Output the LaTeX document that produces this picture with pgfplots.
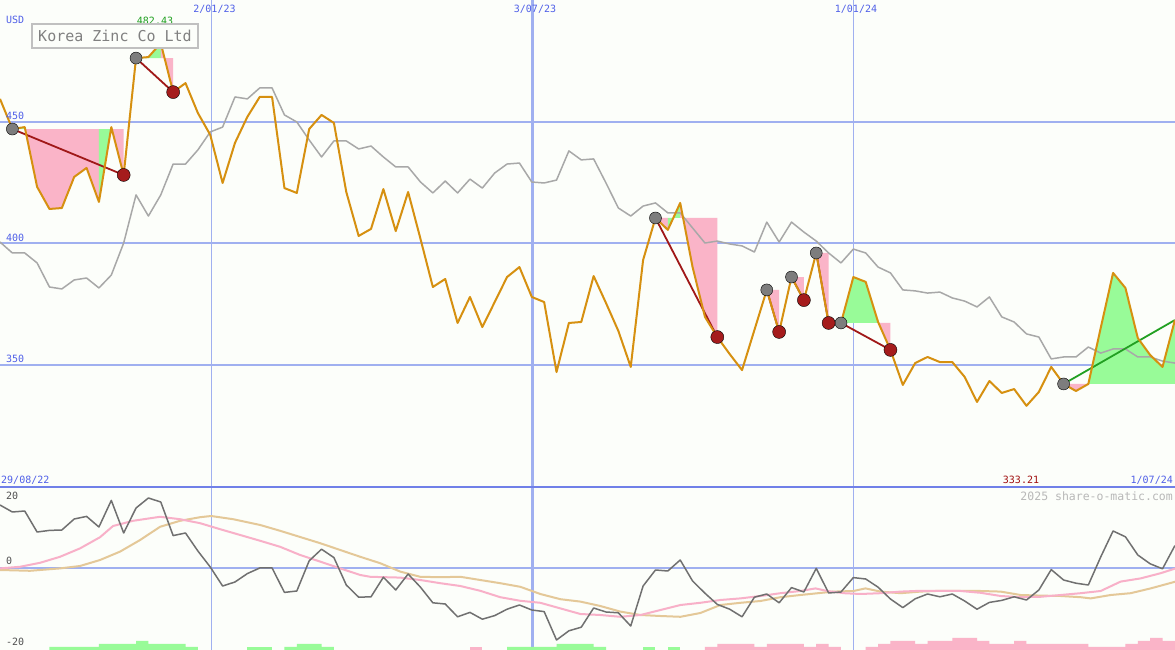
\documentclass[border=0pt]{standalone}
\usepackage{fontspec}
\setmainfont{DejaVu Sans Mono}
\usepackage{pgfplots}
\pgfplotsset{compat=1.18}
\definecolor{bgc}{RGB}{252,254,250}
\definecolor{gridc}{RGB}{160,176,240}
\definecolor{sepc}{RGB}{112,128,232}
\definecolor{lblue}{RGB}{80,96,232}
\definecolor{orangec}{RGB}{214,144,16}
\definecolor{grayp}{RGB}{168,168,168}
\definecolor{pinkf}{RGB}{250,180,200}
\definecolor{greenf}{RGB}{152,251,152}
\definecolor{tradered}{RGB}{160,24,24}
\definecolor{exitred}{RGB}{165,28,28}
\definecolor{entrygray}{RGB}{125,125,125}
\definecolor{tradegreen}{RGB}{34,160,34}
\definecolor{momc}{RGB}{112,112,112}
\definecolor{mapink}{RGB}{248,176,200}
\definecolor{matan}{RGB}{228,200,152}
\definecolor{wmc}{RGB}{184,184,184}
\definecolor{titlec}{RGB}{128,128,128}
\definecolor{boxc}{RGB}{192,192,192}
\definecolor{lowred}{RGB}{160,16,16}
\definecolor{hic}{RGB}{32,160,32}
\definecolor{lowlbl}{RGB}{80,80,80}
\begin{document}
\begin{tikzpicture}
\path[use as bounding box] (0pt,0pt) rectangle (1175pt,650pt);
\fill[bgc] (0pt,0pt) rectangle (1175pt,650pt);
% ================= upper panel =================
\begin{axis}[at={(0pt,163pt)}, anchor=south west, scale only axis,
  width=1175pt, height=487pt, xmin=0, xmax=95, ymin=299.8, ymax=500.2,
  hide axis, clip=true]
\draw[gridc, line width=2pt] (0,350) -- (95,350);
\draw[gridc, line width=2pt] (0,400) -- (95,400);
\draw[gridc, line width=2pt] (0,450) -- (95,450);
\fill[gridc] (17.06,299.8) rectangle (17.17,500.2);
\fill[gridc] (42.95,299.8) rectangle (43.14,500.2);
\fill[gridc] (68.95,299.8) rectangle (69.06,500.2);
% trade fills
\addplot[fill=greenf, draw=none] coordinates {(1,447.1)(1,447.1)(2,447.9)(2,447.1)};
\addplot[fill=pinkf, draw=none] coordinates {(2,447.1)(2,447.9)(3,423.3)(4,414.2)(5,414.6)(6,427.4)(7,431.1)(8,417.1)(8,447.1)};
\addplot[fill=greenf, draw=none] coordinates {(8,447.1)(8,417.1)(9,447.9)(9,447.1)};
\addplot[fill=pinkf, draw=none] coordinates {(9,447.1)(9,447.9)(10,428.2)(10,447.1)};
\addplot[fill=greenf, draw=none] coordinates {(11,476.3)(11,476.3)(12,476.7)(13,482.43)(13,476.3)};
\addplot[fill=pinkf, draw=none] coordinates {(13,476.3)(13,482.43)(14,462.3)(14,476.3)};
\addplot[fill=pinkf, draw=none] coordinates {(53,410.5)(53,410.5)(54,405.6)(54,410.5)};
\addplot[fill=greenf, draw=none] coordinates {(54,410.5)(54,405.6)(55,416.7)(55,410.5)};
\addplot[fill=pinkf, draw=none] coordinates {(55,410.5)(55,416.7)(56,390.3)(57,369.8)(58,361.5)(58,410.5)};
\addplot[fill=pinkf, draw=none] coordinates {(62,380.9)(62,380.9)(63,363.6)(63,380.9)};
\addplot[fill=pinkf, draw=none] coordinates {(64,386.2)(64,386.2)(65,376.7)(65,386.2)};
\addplot[fill=pinkf, draw=none] coordinates {(66,396.1)(66,396.1)(67,367.3)(67,396.1)};
\addplot[fill=greenf, draw=none] coordinates {(68,367.3)(68,367.3)(69,386.2)(70,384.2)(71,367.7)(71,367.3)};
\addplot[fill=pinkf, draw=none] coordinates {(71,367.3)(71,367.7)(72,356.2)(72,367.3)};
\addplot[fill=pinkf, draw=none] coordinates {(86,342.2)(86,342.2)(87,339.3)(88,342.2)(88,342.2)};
\addplot[fill=greenf, draw=none] coordinates {(88,342.2)(88,342.2)(89,365.2)(90,387.9)(91,381.7)(92,361.1)(93,354.1)(94,349.2)(95,368.5)(95,342.2)};
% relative gray line
\addplot[grayp, line width=1.5pt, line join=round] coordinates {
(0,400.6)(1,396.1)(2,396.1)(3,392.0)(4,382.1)(5,381.3)(6,385.0)(7,385.8)(8,381.7)(9,387.0)
(10,400.2)(11,420.0)(12,411.3)(13,420.0)(14,432.7)(15,432.7)(16,438.5)(17,445.9)(18,447.9)(19,460.3)
(20,459.5)(21,464.0)(22,464.0)(23,452.9)(24,450.0)(25,442.6)(26,435.6)(27,442.2)(28,442.2)(29,438.9)
(30,440.1)(31,435.6)(32,431.5)(33,431.5)(34,425.3)(35,420.8)(36,425.7)(37,420.8)(38,426.5)(39,422.8)
(40,429.0)(41,432.7)(42,433.1)(43,425.3)(44,424.9)(45,426.1)(46,438.1)(47,434.4)(48,434.8)(49,424.9)
(50,414.6)(51,411.3)(52,415.4)(53,416.7)(54,412.6)(55,412.6)(56,406.4)(57,400.2)(58,401.0)(59,399.8)
(60,399.0)(61,396.5)(62,408.8)(63,400.6)(64,408.8)(65,404.7)(66,401.0)(67,396.1)(68,392.0)(69,397.7)
(70,396.1)(71,390.3)(72,387.9)(73,380.9)(74,380.5)(75,379.6)(76,380.0)(77,377.6)(78,376.3)(79,373.9)
(80,378.0)(81,369.8)(82,367.7)(83,362.8)(84,361.5)(85,352.5)(86,353.3)(87,353.3)(88,357.4)(89,354.9)
(90,356.6)(91,356.6)(92,353.3)(93,353.3)(94,351.6)(95,350.8)};
% trade lines
\addplot[tradered, line width=1.8pt] coordinates {(1,447.1)(10,428.2)};
\addplot[tradered, line width=1.8pt] coordinates {(11,476.3)(14,462.3)};
\addplot[tradered, line width=1.8pt] coordinates {(53,410.5)(58,361.5)};
\addplot[tradered, line width=1.8pt] coordinates {(62,380.9)(63,363.6)};
\addplot[tradered, line width=1.8pt] coordinates {(64,386.2)(65,376.7)};
\addplot[tradered, line width=1.8pt] coordinates {(66,396.1)(67,367.3)};
\addplot[tradered, line width=1.8pt] coordinates {(68,367.3)(72,356.2)};
\addplot[tradegreen, line width=1.8pt] coordinates {(86,342.2)(95,368.5)};
% signal markers
\addplot[only marks, mark=*, mark size=6pt, mark options={fill=entrygray, draw=none}] coordinates {
(1,447.1)(11,476.3)(53,410.5)(62,380.9)(64,386.2)(66,396.1)(68,367.3)(86,342.2)};
\addplot[only marks, mark=*, mark size=6.5pt, mark options={fill=exitred, draw=none}] coordinates {
(10,428.2)(14,462.3)(58,361.5)(63,363.6)(65,376.7)(67,367.3)(72,356.2)};
% price line
\addplot[orangec, line width=2pt, line join=round] coordinates {
(0,459.5)(1,447.1)(2,447.9)(3,423.3)(4,414.2)(5,414.6)(6,427.4)(7,431.1)(8,417.1)(9,447.9)
(10,428.2)(11,476.3)(12,476.7)(13,482.43)(14,462.3)(15,466.0)(16,453.7)(17,444.7)(18,424.9)(19,441.4)
(20,452.1)(21,460.3)(22,460.3)(23,422.8)(24,420.8)(25,447.1)(26,452.9)(27,449.6)(28,421.2)(29,403.1)
(30,406.0)(31,422.4)(32,405.1)(33,421.2)(34,401.9)(35,382.1)(36,385.4)(37,367.3)(38,378.0)(39,365.6)
(40,375.9)(41,386.2)(42,390.3)(43,378.0)(44,375.9)(45,347.1)(46,367.3)(47,367.7)(48,386.6)(49,375.5)
(50,364.0)(51,349.2)(52,393.2)(53,410.5)(54,405.6)(55,416.7)(56,390.3)(57,369.8)(58,361.5)(59,354.5)
(60,347.9)(61,364.4)(62,380.9)(63,363.6)(64,386.2)(65,376.7)(66,396.1)(67,367.3)(68,367.3)(69,386.2)
(70,384.2)(71,367.7)(72,356.2)(73,341.8)(74,350.8)(75,353.3)(76,351.2)(77,351.2)(78,345.1)(79,334.8)
(80,343.4)(81,338.5)(82,340.1)(83,333.21)(84,338.9)(85,349.2)(86,342.2)(87,339.3)(88,342.2)(89,365.2)
(90,387.9)(91,381.7)(92,361.1)(93,354.1)(94,349.2)(95,368.5)};
\end{axis}
% ================= lower panel =================
\begin{axis}[at={(0pt,0pt)}, anchor=south west, scale only axis,
  width=1175pt, height=163pt, xmin=0, xmax=95, ymin=-20.5, ymax=20.25,
  hide axis, clip=true]
\draw[gridc, line width=2pt] (0,0) -- (95,0);
\fill[gridc] (17.06,-20.5) rectangle (17.17,20.25);
\fill[gridc] (42.95,-20.5) rectangle (43.14,20.25);
\fill[gridc] (68.95,-20.5) rectangle (69.06,20.25);
% histogram bars
\addplot[fill=greenf, draw=none] coordinates {(4,-20.5)(4,-19.75)(8,-19.75)(8,-19)(11,-19)(11,-18.25)(12,-18.25)(12,-19)(15,-19)(15,-19.75)(16,-19.75)(16,-20.5)};
\addplot[fill=greenf, draw=none] coordinates {(20,-20.5)(20,-19.75)(22,-19.75)(22,-20.5)};
\addplot[fill=greenf, draw=none] coordinates {(23,-20.5)(23,-19.75)(24,-19.75)(24,-19)(26,-19)(26,-19.75)(27,-19.75)(27,-20.5)};
\addplot[fill=pinkf, draw=none] coordinates {(38,-20.5)(38,-19.75)(39,-19.75)(39,-20.5)};
\addplot[fill=greenf, draw=none] coordinates {(41,-20.5)(41,-19.75)(45,-19.75)(45,-19)(48,-19)(48,-19.75)(49,-19.75)(49,-20.5)};
\addplot[fill=greenf, draw=none] coordinates {(52,-20.5)(52,-19.75)(53,-19.75)(53,-20.5)};
\addplot[fill=greenf, draw=none] coordinates {(54,-20.5)(54,-19.75)(55,-19.75)(55,-20.5)};
\addplot[fill=pinkf, draw=none] coordinates {(57,-20.5)(57,-19.75)(58,-19.75)(58,-19)(61,-19)(61,-19.75)(62,-19.75)(62,-19)(65,-19)(65,-19.75)(66,-19.75)(66,-19)(67,-19)(67,-19.75)(68,-19.75)(68,-20.5)};
\addplot[fill=pinkf, draw=none] coordinates {(70,-20.5)(70,-19.75)(71,-19.75)(71,-19)(72,-19)(72,-18.25)(74,-18.25)(74,-19)(75,-19)(75,-18.25)(77,-18.25)(77,-17.5)(79,-17.5)(79,-18.25)(80,-18.25)(80,-19)(82,-19)(82,-18.25)(83,-18.25)(83,-19)(88,-19)(88,-19.75)(91,-19.75)(91,-19)(92,-19)(92,-18.25)(93,-18.25)(93,-17.5)(94,-17.5)(94,-18.25)(95,-18.25)(95,-20.5)};
% moving averages
\addplot[matan, line width=2pt] coordinates {
(0,-0.5)(2.43,-0.7)(4.85,-0.1)(6.47,0.5)(8.09,2.0)(9.71,4.1)(11.33,7.0)(12.94,10.3)(14.56,11.8)(16.18,12.7)
(17.07,13.0)(18.85,12.2)(21.04,10.75)(22.65,9.3)(24.27,7.75)(25.89,6.2)(27.51,4.5)(29.13,2.8)(30.74,1.2)(32.36,-0.9)
(33.98,-2.2)(35.60,-2.3)(37.22,-2.2)(38.83,-3.0)(40.45,-3.8)(42.07,-4.7)(43.69,-6.5)(45.31,-7.8)(46.93,-8.4)(48.54,-9.5)
(50.16,-10.9)(51.78,-11.75)(53.40,-12.0)(55.02,-12.2)(56.63,-11.25)(58.25,-9.25)(59.87,-8.7)(61.49,-8.25)(63.11,-7.3)(64.72,-6.75)
(67.40,-5.9)(69.01,-5.75)(69.98,-5.1)(71.20,-5.9)(72.82,-6.3)(74.43,-5.9)(76.05,-5.7)(77.67,-5.7)(79.29,-5.75)(80.91,-5.9)
(82.52,-6.75)(84.14,-6.9)(85.76,-7.0)(87.38,-7.3)(88.19,-7.6)(89.81,-6.75)(91.42,-6.3)(93.04,-5.1)(95.06,-3.4)};
\addplot[mapink, line width=2pt] coordinates {
(0,-0.1)(1.62,0.3)(3.24,1.3)(4.85,2.8)(6.47,4.9)(8.09,7.7)(9.14,10.5)(10.76,11.8)(12.94,12.8)(14.56,12.2)
(16.18,11.2)(17.80,9.7)(19.42,8.25)(21.04,6.8)(22.65,5.3)(24.27,3.25)(25.89,1.6)(27.51,-0.1)(29.13,-1.75)(29.94,-2.2)
(32.36,-2.4)(33.98,-3.0)(35.60,-3.8)(37.22,-4.5)(38.83,-5.7)(40.45,-7.3)(42.07,-8.2)(43.69,-8.7)(45.31,-10.1)(46.93,-11.5)
(48.54,-11.75)(50.16,-12.2)(51.78,-11.75)(53.40,-10.5)(55.02,-9.25)(56.63,-8.7)(58.25,-8.0)(59.87,-7.6)(61.49,-7.0)(63.11,-6.3)
(64.72,-5.75)(65.94,-5.1)(66.88,-5.75)(68.23,-6.3)(69.58,-6.5)(71.20,-6.3)(72.82,-5.9)(74.43,-5.7)(76.05,-5.7)(77.67,-5.75)
(79.29,-6.2)(80.91,-7.0)(82.52,-7.3)(84.14,-7.2)(85.76,-6.75)(87.38,-6.3)(89.00,-5.75)(90.61,-3.4)(92.23,-2.6)(93.85,-1.3)(95.06,-0.1)};
% momentum
\addplot[momc, line width=1.5pt, line join=round] coordinates {
(0,15.75)(1,14.0)(2,14.25)(3,9.0)(4,9.4)(5,9.5)(6,12.25)(7,12.9)(8,10.25)(9,16.9)
(10,8.75)(11,15.0)(12,17.5)(13,16.5)(14,8.1)(15,8.75)(16,4.25)(17,0.25)(18,-4.5)(19,-3.5)
(20,-1.4)(21,0)(22,0)(23,-6.1)(24,-5.75)(25,1.8)(26,4.7)(27,2.6)(28,-4.25)(29,-7.3)
(30,-7.2)(31,-2.3)(32,-5.5)(33,-1.5)(34,-4.8)(35,-8.7)(36,-9.0)(37,-12.2)(38,-11.1)(39,-12.8)
(40,-11.9)(41,-10.3)(42,-9.25)(43,-10.5)(44,-10.9)(45,-18.0)(46,-15.7)(47,-14.8)(48,-10.0)(49,-11.0)
(50,-11.2)(51,-14.5)(52,-4.5)(53,-0.5)(54,-0.75)(55,2.0)(56,-3.25)(57,-6.3)(58,-9.1)(59,-10.3)
(60,-12.2)(61,-7.3)(62,-6.5)(63,-8.7)(64,-4.9)(65,-6.0)(66,-0.1)(67,-6.25)(68,-6.0)(69,-2.4)
(70,-2.75)(71,-4.8)(72,-7.75)(73,-9.9)(74,-7.7)(75,-6.5)(76,-7.2)(77,-6.5)(78,-8.25)(79,-10.3)
(80,-8.6)(81,-8.1)(82,-7.2)(83,-8.0)(84,-5.5)(85,-0.4)(86,-3.0)(87,-3.8)(88,-4.25)(89,2.75)
(90,9.25)(91,7.8)(92,3.25)(93,1.05)(94,-0.2)(95,5.6)};
\end{axis}
% separator
\draw[sepc, line width=2.2pt] (0pt,163.2pt) -- (1175pt,163.2pt);
% ================= texts =================
\begin{scope}[every node/.style={inner sep=0pt, font=\fontsize{10}{12}\selectfont}]
\node[anchor=base west, text=lblue] at (6pt,626.5pt) {USD};
\node[anchor=base, text=lblue] at (214.5pt,637pt) {2/01/23};
\node[anchor=base, text=lblue] at (535pt,637pt) {3/07/23};
\node[anchor=base, text=lblue] at (856pt,637pt) {1/01/24};
\node[anchor=base, text=hic] at (155pt,625pt) {482.43};
\node[anchor=base west, text=lblue] at (6pt,530.5pt) {450};
\node[anchor=base west, text=lblue] at (6pt,408.5pt) {400};
\node[anchor=base west, text=lblue] at (6pt,287pt) {350};
\node[anchor=base west, text=lblue] at (1pt,166.5pt) {29/08/22};
\node[anchor=base, text=lowred] at (1021pt,166.5pt) {333.21};
\node[anchor=base east, text=lblue] at (1173pt,166.5pt) {1/07/24};
\node[anchor=base west, text=lowlbl] at (6pt,150pt) {20};
\node[anchor=base west, text=lowlbl] at (6pt,85pt) {0};
\node[anchor=base west, text=lowlbl] at (6pt,4pt) {-20};
\node[anchor=base east, text=wmc, font=\fontsize{11.5}{13}\selectfont] at (1173pt,149.5pt) {2025 share-o-matic.com};
\end{scope}
\fill[bgc] (32pt,602pt) rectangle (198pt,626pt);
\draw[boxc, line width=2pt] (32pt,602pt) rectangle (198pt,626pt);
\node[text=titlec, inner sep=0pt, font=\fontsize{15}{17}\selectfont, anchor=base] at (115pt,608pt) {Korea Zinc Co Ltd};
\end{tikzpicture}
\end{document}
